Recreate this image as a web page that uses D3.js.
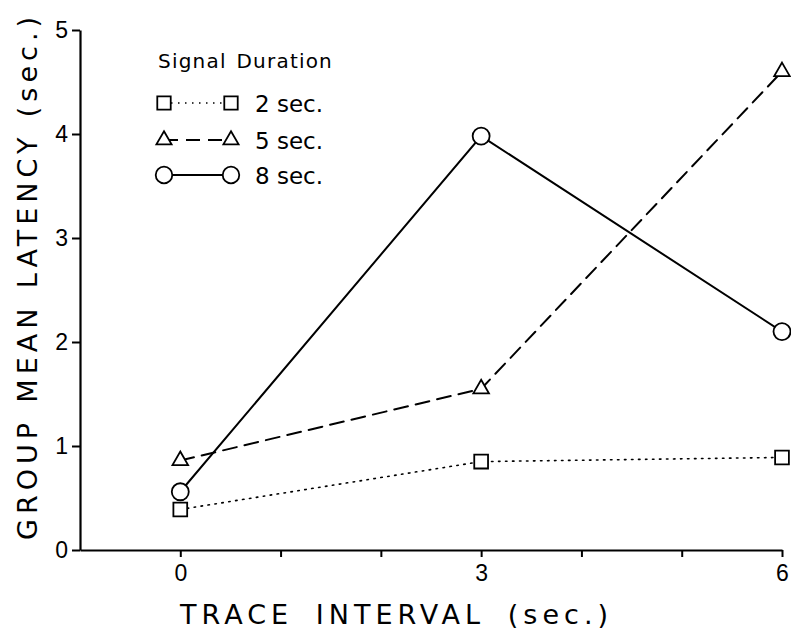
<!DOCTYPE html>
<html>
<head>
<meta charset="utf-8">
<script src="https://cdn.jsdelivr.net/npm/d3@7"></script>
<style>
  body { margin: 0; background: #fff; }
  svg { display: block; font-family: "DejaVu Sans", sans-serif; }
</style>
</head>
<body>
<svg width="791" height="633"></svg>
<script>
// trace interval (sec.) on x, group mean latency (sec.) on y
const intervals = [0, 3, 6]
const lat2 = [0.39, 0.85, 0.89]
const lat5 = [0.86, 1.55, 4.6]
const lat8 = [0.56, 3.98, 2.1]

const xTicks = [0, 1, 2, 3, 4, 5, 6]
const xLabels = [0, 3, 6]
const yTicks = [0, 1, 2, 3, 4, 5]

const seriesNames = ["2 sec.", "5 sec.", "8 sec."]

const series = [
  {name: seriesNames[0], values: lat2, symbol: d3.symbolSquare, size: 190, dash: "1.5,5.5", width: 1.6},
  {name: seriesNames[1], values: lat5, symbol: d3.symbolTriangle, size: 105, dash: "14,8", width: 2},
  {name: seriesNames[2], values: lat8, symbol: d3.symbolCircle, size: 227, dash: null, width: 2}
]

const svg = d3.select("svg")

const x = d3.scaleLinear().domain([-1, 6]).range([80, 782])
const y = d3.scaleLinear().domain([0, 5]).range([550, 30])

// stretch the gaps between words so the text fills a given length
function spreadWords(sel, target) {
  const n = sel.text().split(" ").length - 1
  const w = sel.node().getComputedTextLength()
  sel.attr("word-spacing", Math.max(0, (target - w) / n))
}

// axes
const xAxis = svg.append("g")
  .attr("transform", "translate(0,550)")
  .call(d3.axisBottom(x).tickValues(xTicks).tickSize(7).tickSizeOuter(0)
    .tickFormat(d => xLabels.includes(d) ? d : ""))
xAxis.select(".domain").attr("stroke", "#000").attr("stroke-width", 2.2)
xAxis.selectAll(".tick line").attr("stroke", "#000").attr("stroke-width", 2)
xAxis.selectAll(".tick text").attr("font-size", 23).attr("fill", "#000").attr("dy", "0.9em")

const yAxis = svg.append("g")
  .attr("transform", "translate(80,0)")
  .call(d3.axisLeft(y).tickValues(yTicks).tickFormat(d3.format("d")).tickSize(8).tickSizeOuter(0).tickPadding(4))
yAxis.select(".domain").attr("stroke", "#000").attr("stroke-width", 2.2)
yAxis.selectAll(".tick line").attr("stroke", "#000").attr("stroke-width", 2)
yAxis.selectAll(".tick text").attr("font-size", 23).attr("fill", "#000")

// axis titles
const xTitle = svg.append("text")
  .attr("x", 180).attr("y", 624)
  .attr("font-size", 27)
  .attr("letter-spacing", 5)
  .text("TRACE INTERVAL (sec.)")
spreadWords(xTitle, 433)

const yTitle = svg.append("text")
  .attr("transform", "translate(37,540) rotate(-90)")
  .attr("font-size", 27)
  .attr("letter-spacing", 5)
  .text("GROUP MEAN LATENCY (sec.)")
spreadWords(yTitle, 528)

// lines
const line = d3.line()
  .x((d, i) => x(intervals[i]))
  .y(d => y(d))

svg.selectAll(".series-line")
  .data(series)
  .enter()
  .append("path")
  .attr("class", "series-line")
  .attr("d", d => line(d.values))
  .attr("fill", "none")
  .attr("stroke", "#000")
  .attr("stroke-width", d => d.width)
  .attr("stroke-dasharray", d => d.dash)
  .attr("stroke-linecap", "round")

// markers
series.forEach(s => {
  svg.selectAll(null)
    .data(s.values)
    .enter()
    .append("path")
    .attr("transform", (d, i) => "translate(" + x(intervals[i]) + "," + y(d) + ")")
    .attr("d", d3.symbol().type(s.symbol).size(s.size))
    .attr("fill", "#fff")
    .attr("stroke", "#000")
    .attr("stroke-width", 1.8)
})

// legend
const legTitle = svg.append("text")
  .attr("x", 158).attr("y", 68)
  .attr("font-size", 20)
  .attr("letter-spacing", 1.2)
  .text("Signal Duration")
spreadWords(legTitle, 175)

const legendY = [103, 140, 175]

series.forEach((s, i) => {
  const g = svg.append("g").attr("transform", "translate(0," + legendY[i] + ")")
  g.append("line")
    .attr("x1", 164).attr("x2", 231)
    .attr("stroke", "#000")
    .attr("stroke-width", s.width)
    .attr("stroke-dasharray", s.dash)
  ;[164, 231].forEach(cx => {
    g.append("path")
      .attr("transform", "translate(" + cx + ",0)")
      .attr("d", d3.symbol().type(s.symbol).size(s.size * 0.95))
      .attr("fill", "#fff")
      .attr("stroke", "#000")
      .attr("stroke-width", 1.8)
  })
  g.append("text")
    .attr("x", 255).attr("y", 9)
    .attr("font-size", 23)
    .text(s.name)
})
</script>
</body>
</html>
